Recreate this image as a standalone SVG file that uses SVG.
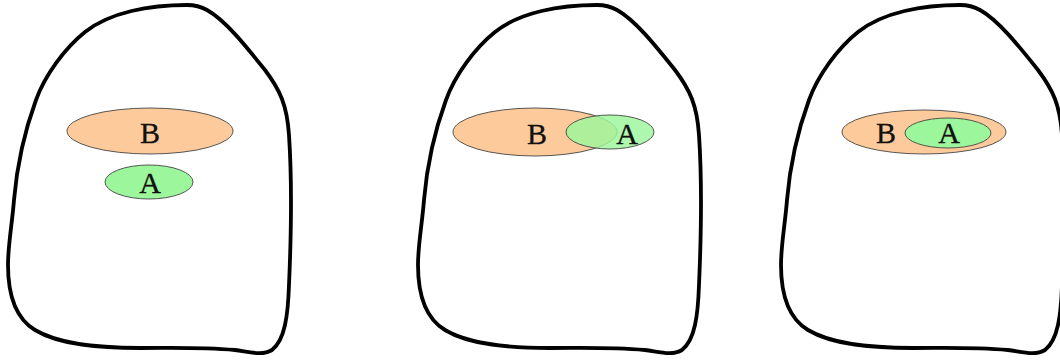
<svg xmlns="http://www.w3.org/2000/svg" xmlns:xlink="http://www.w3.org/1999/xlink" width="1060" height="362" viewBox="0 0 1060 362">
<style>
.blob{fill:none;stroke:#000;stroke-width:3.8;stroke-linejoin:round}
.setB{fill:#fdcb9b;stroke:#444;stroke-width:0.9}
.setA{fill:#9cf79c;stroke:#444;stroke-width:0.9}
.setAt{fill:#9cf79c;fill-opacity:0.82;stroke:#444;stroke-width:0.9}
.lbl{font-family:"Liberation Serif","DejaVu Serif",serif;font-size:30px;fill:#111;stroke:#111;stroke-width:0.3;text-anchor:middle}
</style>
<defs>
<path id="blob" d="M187,5 C150,5 110,12 85,32 C65,48 45,75 36,100 C25,130 17,165 14,200 C12,225 8,245 8,265 C8,295 15,318 35,330 C60,345 100,348 140,348 C175,348 200,347 235,350 C250,352 262,356 272,350 C285,340 288,315 289,285 C291,240 292,180 289,135 C287,105 280,90 265,70 C245,45 225,20 207,10 C200,6 195,5 187,5 Z"/>
</defs>
<g id="panel1">
<use xlink:href="#blob" href="#blob" class="blob"/>
<g id="p1-B"><ellipse class="setB" cx="150" cy="131" rx="83" ry="23"/><text class="lbl" x="150" y="143">B</text></g>
<g id="p1-A"><ellipse class="setA" cx="149" cy="182" rx="44" ry="17"/><text class="lbl" x="150" y="193">A</text></g>
</g>
<g id="panel2">
<use xlink:href="#blob" href="#blob" class="blob" transform="translate(410,0)"/>
<g id="p2-B"><ellipse class="setB" cx="535" cy="132" rx="82" ry="24"/><text class="lbl" x="537" y="144">B</text></g>
<g id="p2-A"><ellipse class="setAt" cx="610" cy="132" rx="44" ry="17"/><text class="lbl" x="627" y="144">A</text></g>
</g>
<g id="panel3">
<use xlink:href="#blob" href="#blob" class="blob" transform="translate(773,0)"/>
<g id="p3-B"><ellipse class="setB" cx="924" cy="132" rx="82" ry="22"/><text class="lbl" x="886" y="143">B</text></g>
<g id="p3-A"><ellipse class="setA" cx="948" cy="133" rx="43" ry="15"/><text class="lbl" x="949" y="143">A</text></g>
</g>
<g id="connectors"/>
</svg>
